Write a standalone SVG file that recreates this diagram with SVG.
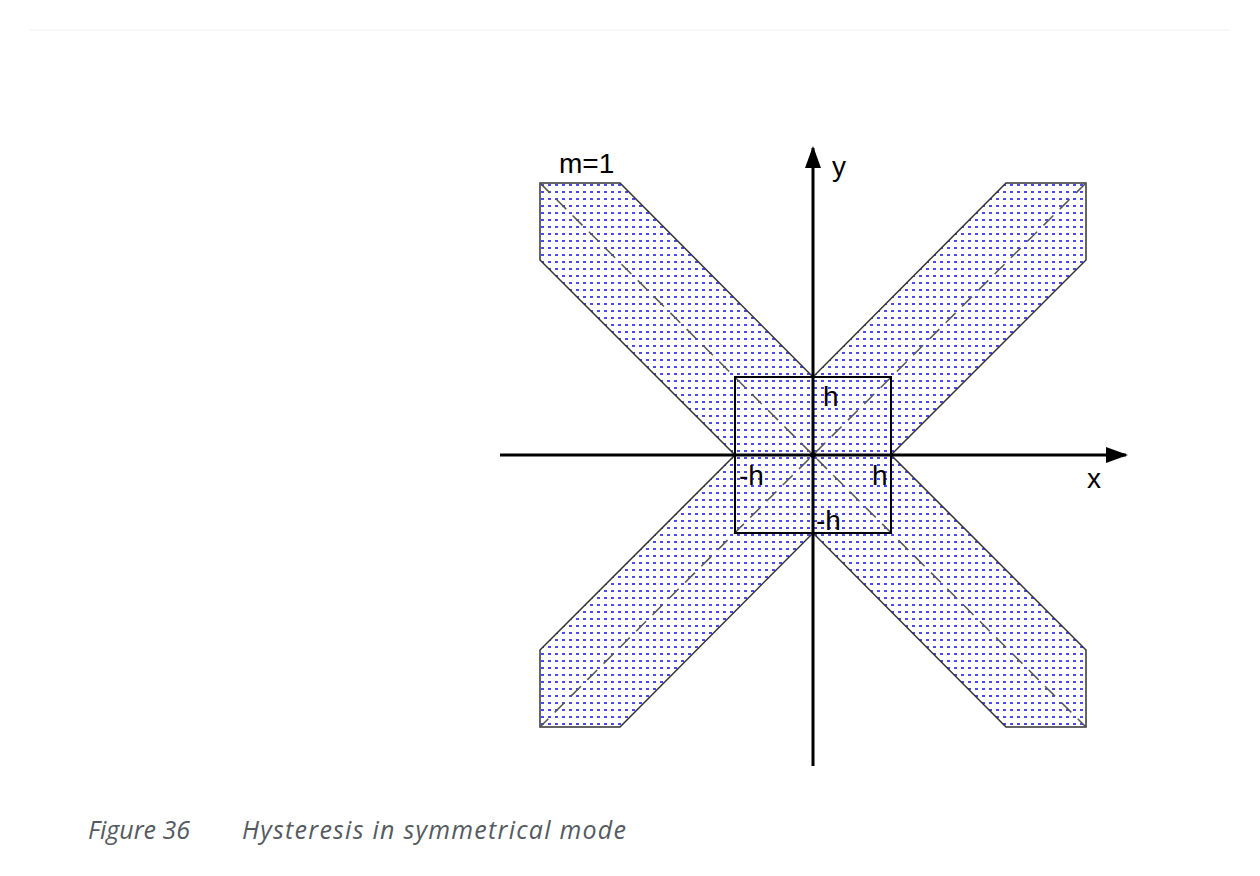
<svg xmlns="http://www.w3.org/2000/svg" width="1260" height="876" viewBox="0 0 1260 876">
<style>
.lbl{font-family:"Liberation Sans",Arial,sans-serif;font-size:28px;fill:#000}
.cap{font-family:"Open Sans","Liberation Sans",sans-serif;font-size:25px;font-style:italic;fill:#555a60}
</style>
<defs>
<pattern id="dots" width="7" height="7" patternUnits="userSpaceOnUse">
<rect width="7" height="7" fill="#fff"/>
<rect x="2" y="2" width="3" height="2" fill="#4a4af0"/>
</pattern>
<marker id="ar" markerWidth="22" markerHeight="16" refX="20" refY="8" orient="auto" markerUnits="userSpaceOnUse" viewBox="0 0 22 16">
<path d="M0,0 L22,8 L0,16 Z" fill="#000"/>
</marker>
</defs>
<rect width="1260" height="876" fill="#fff"/>
<line x1="30" y1="30" x2="1230" y2="30" stroke="#f0f0f0" stroke-width="1"/>
<g id="band">
<polygon points="540,183 620,183 813,377 1006,183 1086,183 1086,260 891,455 1086,650 1086,727 1006,727 813,533 620,727 540,727 540,650 735,455 540,260" fill="url(#dots)" stroke="#333" stroke-width="1.5"/>
</g>
<g id="connectors">
<line x1="540" y1="183" x2="1086" y2="727" stroke="#555" stroke-width="1.5" stroke-dasharray="14,9"/>
<line x1="1086" y1="183" x2="540" y2="727" stroke="#555" stroke-width="1.5" stroke-dasharray="14,9"/>
<rect id="box" x="735" y="377" width="156" height="156" fill="none" stroke="#000" stroke-width="2"/>
<line x1="500" y1="455" x2="1126" y2="455" stroke="#000" stroke-width="3" marker-end="url(#ar)"/>
<line x1="813" y1="766" x2="813" y2="148" stroke="#000" stroke-width="3" marker-end="url(#ar)"/>
<circle cx="813" cy="455" r="3" fill="#000"/>
</g>
<g id="labels">
<text class="lbl" x="559" y="173">m=1</text>
<text class="lbl" x="832" y="176">y</text>
<text class="lbl" x="1087" y="488">x</text>
<text class="lbl" x="823" y="406">h</text>
<text class="lbl" x="739" y="485">-h</text>
<text class="lbl" x="872" y="485">h</text>
<text class="lbl" x="816" y="530">-h</text>
</g>
<text class="cap" x="88" y="839">Figure 36</text>
<text class="cap" x="242" y="839" textLength="384" lengthAdjust="spacing">Hysteresis in symmetrical mode</text>
</svg>
